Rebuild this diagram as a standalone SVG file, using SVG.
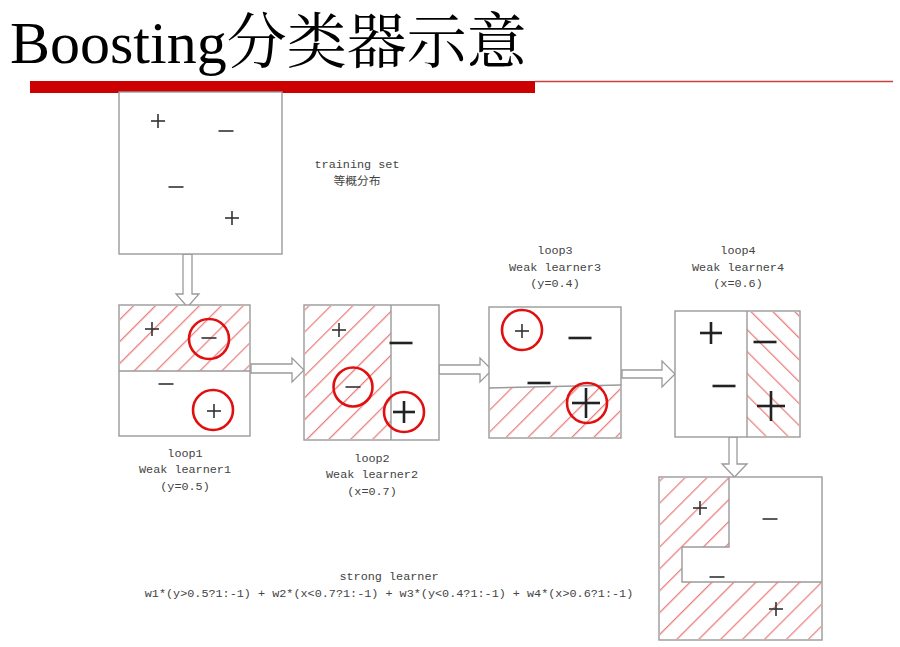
<svg xmlns="http://www.w3.org/2000/svg" xmlns:xlink="http://www.w3.org/1999/xlink" width="900" height="647" viewBox="0 0 900 647">
<defs>
<style>
.box{fill:#fff;stroke:#9a9a9a;stroke-width:1.4}
.hatch{fill:url(#h1);stroke:none}
.hatch2{fill:url(#h2);stroke:none}
.div{fill:none;stroke:#9a9a9a;stroke-width:1.4}
.arr{fill:#fff;stroke:#9a9a9a;stroke-width:1.3;stroke-linejoin:miter}
.ring{fill:none;stroke:#e01010;stroke-width:2.6}
.sym{stroke:#333;stroke-width:1.6;stroke-linecap:butt}
.bsym{stroke:#222;stroke-width:2.6;stroke-linecap:butt}
.lbl{font-family:"Liberation Mono","Noto Sans CJK SC",monospace;font-size:11.8px;fill:#444;text-anchor:middle}
.title{font-family:"Liberation Serif","Noto Serif CJK SC","Noto Sans CJK SC",serif;font-size:60px;fill:#000}
</style>
<pattern id="h1" patternUnits="userSpaceOnUse" width="15.5" height="15.5" patternTransform="rotate(45)">
<line x1="0.7" y1="0" x2="0.7" y2="15.5" stroke="#e66a6a" stroke-width="1.1"/>
</pattern>
<pattern id="h2" patternUnits="userSpaceOnUse" width="15.5" height="15.5" patternTransform="rotate(-45)">
<line x1="0.7" y1="0" x2="0.7" y2="15.5" stroke="#e66a6a" stroke-width="1.1"/>
</pattern>
<g id="p"><line class="sym" x1="-7" y1="0" x2="7" y2="0"/><line class="sym" x1="0" y1="-7" x2="0" y2="7"/></g>
<g id="m"><line class="sym" x1="-7.5" y1="0" x2="7.5" y2="0"/></g>
<g id="P"><line class="bsym" x1="-11" y1="0" x2="11" y2="0"/><line class="bsym" x1="0" y1="-11" x2="0" y2="11"/></g>
<g id="PP"><line class="bsym" x1="-14" y1="0" x2="14" y2="0"/><line class="bsym" x1="0" y1="-15" x2="0" y2="15"/></g>
<g id="M"><line class="bsym" x1="-11.5" y1="0" x2="11.5" y2="0"/></g>
</defs>

<g id="header">
<text class="title" x="10" y="63">Boosting分类器示意</text>
<rect x="30" y="81" width="505" height="12" fill="#cc0000"/>
<line x1="535" y1="81.5" x2="893" y2="81.5" stroke="#c84040" stroke-width="1.5"/>
</g>

<g id="connectors">
<polygon class="arr" points="183,254 192,254 192,294 199,294 187.5,307 176,294 183,294"/>
<polygon class="arr" points="251,364 292,364 292,358 304,370 292,382 292,373 251,373"/>
<polygon class="arr" points="439,365 480,365 480,358 492,370 480,382 480,374 439,374"/>
<polygon class="arr" points="622,370 662,370 662,361 675,374 662,387 662,378 622,378"/>
<polygon class="arr" points="729,437 737,437 737,464 747,464 734.5,477 722,464 729,464"/>
</g>

<g id="training-set">
<rect class="box" x="119" y="92" width="163" height="162"/>
<use xlink:href="#p" x="158" y="121"/>
<use xlink:href="#m" x="226" y="131"/>
<use xlink:href="#m" x="176" y="187"/>
<use xlink:href="#p" x="232" y="218"/>
<text class="lbl" x="357" y="168">training set</text>
<text class="lbl" x="357" y="185">等概分布</text>
</g>

<g id="loop1">
<rect class="box" x="119" y="305" width="131" height="131"/>
<rect class="hatch" x="120" y="306" width="129" height="65"/>
<line class="div" x1="119" y1="371" x2="250" y2="371"/>
<use xlink:href="#p" x="152" y="329"/>
<circle class="ring" cx="209" cy="339" r="20"/>
<use xlink:href="#m" x="209" y="338"/>
<use xlink:href="#m" x="166" y="384"/>
<circle class="ring" cx="213" cy="410" r="20"/>
<use xlink:href="#p" x="214" y="411"/>
<text class="lbl" x="185" y="457">loop1</text>
<text class="lbl" x="185" y="473">Weak learner1</text>
<text class="lbl" x="185" y="490">(y=0.5)</text>
</g>

<g id="loop2">
<rect class="box" x="304" y="305" width="135" height="135"/>
<rect class="hatch" x="305" y="306" width="86" height="133"/>
<line class="div" x1="391" y1="305" x2="391" y2="440"/>
<use xlink:href="#p" x="339" y="330"/>
<use xlink:href="#M" x="401" y="343"/>
<circle class="ring" cx="353" cy="387" r="19.5"/>
<use xlink:href="#m" x="353" y="387"/>
<circle class="ring" cx="404" cy="412" r="20"/>
<use xlink:href="#P" x="404" y="412"/>
<text class="lbl" x="372" y="462">loop2</text>
<text class="lbl" x="372" y="478">Weak learner2</text>
<text class="lbl" x="372" y="495">(x=0.7)</text>
</g>

<g id="loop3">
<rect class="box" x="489" y="307" width="132" height="131"/>
<polygon class="hatch" points="490,388 620,385 620,437 490,437"/>
<line class="div" x1="489" y1="388" x2="621" y2="385"/>
<circle class="ring" cx="522" cy="330" r="20"/>
<use xlink:href="#p" x="522" y="331"/>
<use xlink:href="#M" x="580" y="338"/>
<use xlink:href="#M" x="539" y="383"/>
<circle class="ring" cx="587" cy="403" r="20"/>
<use xlink:href="#PP" x="586" y="403"/>
<text class="lbl" x="555" y="254">loop3</text>
<text class="lbl" x="555" y="271">Weak learner3</text>
<text class="lbl" x="555" y="287">(y=0.4)</text>
</g>

<g id="loop4">
<rect class="box" x="675" y="311" width="125" height="126"/>
<rect class="hatch2" x="747" y="312" width="52" height="124"/>
<line class="div" x1="747" y1="311" x2="747" y2="437"/>
<use xlink:href="#P" x="711" y="333"/>
<use xlink:href="#M" x="765" y="342"/>
<use xlink:href="#M" x="724" y="386"/>
<use xlink:href="#PP" x="771" y="406"/>
<text class="lbl" x="738" y="254">loop4</text>
<text class="lbl" x="738" y="271">Weak learner4</text>
<text class="lbl" x="738" y="287">(x=0.6)</text>
</g>

<g id="strong-learner">
<rect class="box" x="659" y="477" width="163" height="163"/>
<polygon class="hatch" points="660,478 729,478 729,547 682,547 682,582 821,582 821,639 660,639"/>
<polyline class="div" points="729,477 729,547 682,547 682,582 822,582"/>
<use xlink:href="#p" x="700" y="508"/>
<use xlink:href="#m" x="770" y="519"/>
<use xlink:href="#m" x="717" y="577"/>
<use xlink:href="#p" x="776" y="609"/>
<text class="lbl" x="389" y="580">strong learner</text>
<text class="lbl" x="389" y="597">w1*(y&gt;0.5?1:-1) + w2*(x&lt;0.7?1:-1) + w3*(y&lt;0.4?1:-1) + w4*(x&gt;0.6?1:-1)</text>
</g>
</svg>
